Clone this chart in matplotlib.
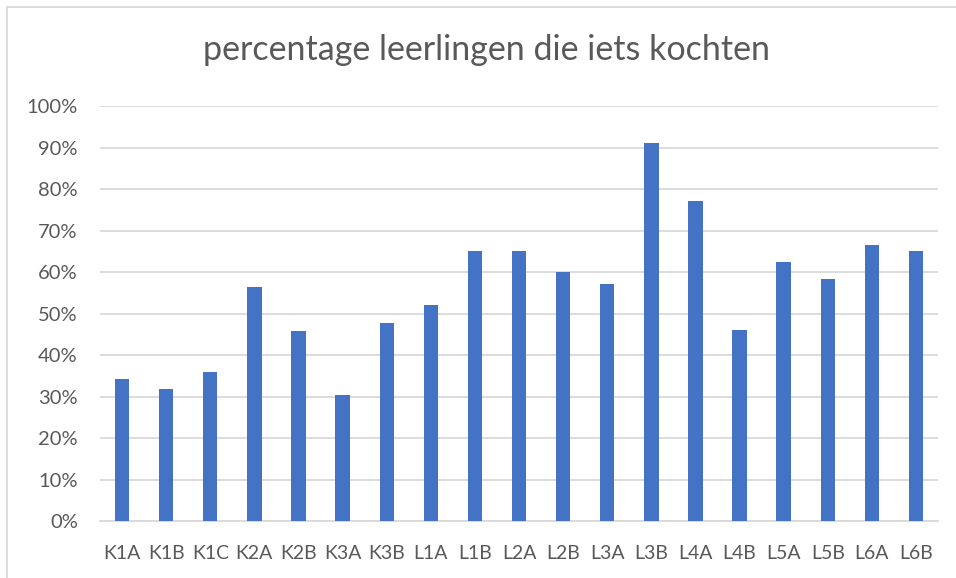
import numpy as np
import matplotlib
matplotlib.use('Agg')
import matplotlib.pyplot as plt
from matplotlib.patches import Rectangle
from matplotlib.ticker import PercentFormatter

# Klassen en percentage leerlingen die iets kochten
klassen = ['K1A', 'K1B', 'K1C', 'K2A', 'K2B', 'K3A', 'K3B', 'L1A', 'L1B', 'L2A',
           'L2B', 'L3A', 'L3B', 'L4A', 'L4B', 'L5A', 'L5B', 'L6A', 'L6B']
percentages = [34.1, 31.7, 35.9, 56.4, 45.8, 30.4, 47.8, 52.1, 65.1, 65.1,
               60.0, 57.1, 91.2, 77.2, 46.1, 62.4, 58.2, 66.5, 65.1]
y_ticks = list(range(0, 101, 10))

plt.rcParams['font.family'] = ['Lato', 'DejaVu Sans']
tekstkleur = '#595959'
rasterkleur = '#d9d9d9'

fig = plt.figure(figsize=(9.56, 5.78), dpi=100)
ax = fig.add_axes([0.1046, 0.0986, 0.8766, 0.718])

# kader rond de grafiek
fig.patches.append(Rectangle((7 / 956, -0.1), 1.2, 1 - 7 / 578 + 0.1,
                             transform=fig.transFigure, fill=False,
                             edgecolor=rasterkleur, linewidth=1.3))

x = np.arange(len(klassen))
ax.bar(x, percentages, width=0.325, color='#4472c4', zorder=3)

ax.set_xlim(-0.5, len(klassen) - 0.5)
ax.set_ylim(0, 100)
ax.set_yticks(y_ticks)
ax.yaxis.set_major_formatter(PercentFormatter(decimals=0))
ax.set_xticks(x)
ax.set_xticklabels(klassen)

ax.grid(axis='y', color=rasterkleur, linewidth=1.3, zorder=0)
for kant in ['top', 'right', 'left']:
    ax.spines[kant].set_visible(False)
ax.spines['bottom'].set_color(rasterkleur)
ax.spines['bottom'].set_linewidth(1.3)

ax.tick_params(axis='both', length=0, labelcolor=tekstkleur)
ax.tick_params(axis='y', pad=16, labelsize=14.5)
ax.tick_params(axis='x', pad=17, labelsize=14)

fig.text(0.509, 0.913, 'percentage leerlingen die iets kochten',
         ha='center', va='center', fontsize=24.5, color=tekstkleur)

plt.savefig('out.png', dpi=100)
